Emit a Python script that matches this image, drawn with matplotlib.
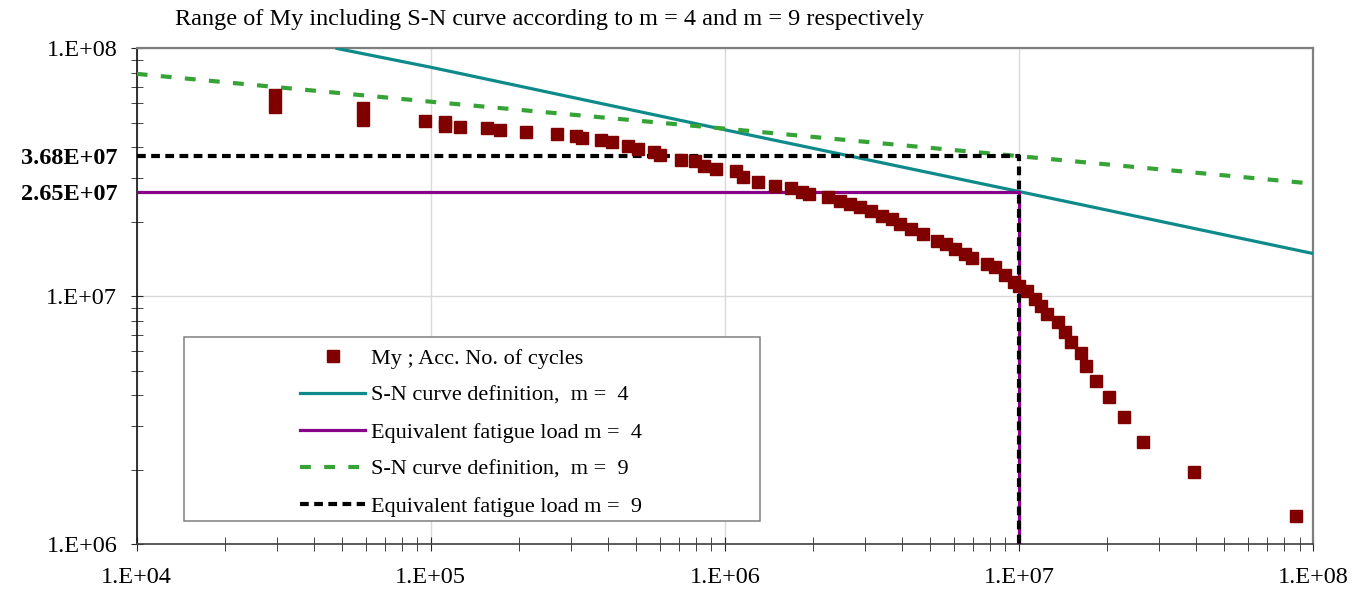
import matplotlib
matplotlib.use("Agg")
import matplotlib.pyplot as plt
from matplotlib.patches import Rectangle
from matplotlib.ticker import LogLocator, NullFormatter

plt.rcParams['font.family'] = ['Liberation Serif', 'DejaVu Serif']

# My range vs accumulated number of cycles
cycles = [2.96e4, 2.96e4, 5.89e4, 5.89e4, 9.53e4, 1.12e5, 1.12e5, 1.256e5, 1.556e5, 1.726e5,
          2.10e5, 2.69e5, 3.11e5, 3.27e5, 3.78e5, 4.14e5, 4.68e5, 5.06e5, 5.73e5, 6.01e5,
          7.10e5, 7.89e5, 8.48e5, 9.31e5, 1.087e6, 1.153e6, 1.297e6, 1.479e6, 1.68e6, 1.83e6,
          1.93e6, 2.24e6, 2.46e6, 2.66e6, 2.87e6, 3.13e6, 3.41e6, 3.70e6, 3.95e6, 4.31e6,
          4.72e6, 5.26e6, 5.66e6, 6.08e6, 6.58e6, 6.92e6, 7.78e6, 8.32e6, 8.99e6, 9.60e6,
          9.98e6, 1.065e7, 1.137e7, 1.192e7, 1.245e7, 1.357e7, 1.439e7, 1.503e7, 1.626e7, 1.695e7,
          1.828e7, 2.03e7, 2.285e7, 2.65e7, 3.95e7, 8.74e7]
my_range = [6.52e7, 5.83e7, 5.75e7, 5.15e7, 5.11e7, 5.04e7, 4.87e7, 4.82e7, 4.77e7, 4.67e7,
            4.61e7, 4.53e7, 4.42e7, 4.36e7, 4.28e7, 4.18e7, 4.06e7, 3.94e7, 3.84e7, 3.72e7,
            3.55e7, 3.51e7, 3.35e7, 3.27e7, 3.20e7, 3.04e7, 2.89e7, 2.80e7, 2.74e7, 2.65e7,
            2.60e7, 2.52e7, 2.42e7, 2.37e7, 2.29e7, 2.22e7, 2.12e7, 2.06e7, 1.96e7, 1.87e7,
            1.79e7, 1.68e7, 1.63e7, 1.555e7, 1.48e7, 1.425e7, 1.352e7, 1.312e7, 1.222e7, 1.148e7,
            1.105e7, 1.055e7, 9.77e6, 9.18e6, 8.50e6, 7.87e6, 7.18e6, 6.54e6, 5.90e6, 5.23e6,
            4.57e6, 3.92e6, 3.28e6, 2.60e6, 1.955e6, 1.306e6]

# S-N curves
sn4_N = [4.8e4, 1e5, 1e6, 1e7, 1e8]
sn4_S = [1e8, 8.4e7, 4.7e7, 2.65e7, 1.49e7]
sn9_N = [1e4, 1e5, 1e6, 1e7, 1e8]
sn9_S = [7.9e7, 6.1e7, 4.75e7, 3.68e7, 2.85e7]

# equivalent fatigue loads at the reference number of cycles
n_ref = 1e7
eq4 = 2.65e7
eq9 = 3.68e7

fig = plt.figure(figsize=(13.55, 5.89), dpi=100)
ax = fig.add_axes([0.1009, 0.0756, 0.8681, 0.8421])

ax.set_xscale('log')
ax.set_yscale('log')
ax.set_xlim(1e4, 1e8)
ax.set_ylim(1e6, 1e8)

ax.grid(True, which='major', color='#d9d9d9', lw=1.0, zorder=0)

h_sn4, = ax.plot(sn4_N, sn4_S, color='#0e8a8a', lw=2.3, zorder=3,
                 label='S-N curve definition,  m =  4')
h_eq4, = ax.plot([1e4, n_ref, n_ref], [eq4, eq4, 1e6], color='#880088', lw=2.3, zorder=3,
                 label='Equivalent fatigue load m =  4')
h_sn9, = ax.plot(sn9_N, sn9_S, color='#36a336', lw=3, dashes=(2.6, 3.2), zorder=3,
                 label='S-N curve definition,  m =  9')
h_eq9, = ax.plot([1e4, n_ref, n_ref], [eq9, eq9, 1e6], color='black', lw=3, dashes=(2.1, 1.3), zorder=4,
                 label='Equivalent fatigue load m =  9')
h_my, = ax.plot(cycles, my_range, 's', color='#800000', ms=8.3, mec='#800000', ls='none', zorder=5,
                label='My ; Acc. No. of cycles')

# ticks
ax.xaxis.set_minor_locator(LogLocator(base=10, subs=range(2, 10), numticks=100))
ax.xaxis.set_minor_formatter(NullFormatter())
ax.set_xticks([1e4, 1e5, 1e6, 1e7, 1e8])
ax.set_xticklabels(['1.E+04', '1.E+05', '1.E+06', '1.E+07', '1.E+08'])

ax.yaxis.set_minor_locator(LogLocator(base=10, subs=range(2, 10), numticks=100))
ax.yaxis.set_minor_formatter(NullFormatter())
ax.set_yticks([1e6, 1e7, 1e8, eq4, eq9])
ax.set_yticklabels(['1.E+06', '1.E+07', '1.E+08', '2.65E+07', '3.68E+07'])
for t in ax.yaxis.get_major_ticks()[3:]:
    t.tick1line.set_visible(False)
    t.gridline.set_visible(False)
    t.label1.set_fontweight('bold')

ax.tick_params(axis='both', which='both', direction='inout', colors='#262626', labelcolor='black',
               labelsize=17.5)
ax.tick_params(axis='x', which='both', length=10, pad=11)
ax.tick_params(axis='y', which='both', length=8, pad=10)

for s in ['top', 'right']:
    ax.spines[s].set_color('#7f7f7f')
    ax.spines[s].set_linewidth(1.6)
ax.spines['left'].set_color('#111111')
ax.spines['left'].set_linewidth(1.2)
ax.spines['bottom'].set_color('#404040')
ax.spines['bottom'].set_linewidth(1.2)

# legend with its own frame (handles sit well to the right of the box edge)
box = Rectangle((0.0402, 0.047), 0.4898, 0.371, transform=ax.transAxes, facecolor='white',
                edgecolor='#7f7f7f', lw=1.1, zorder=6)
ax.add_patch(box)
leg = ax.legend(handles=[h_my, h_sn4, h_eq4, h_sn9, h_eq9], loc='upper left',
                bbox_to_anchor=(0.1388, 0.396), frameon=False, fontsize=16,
                handlelength=2.93, handletextpad=0.27, labelspacing=0.74, borderpad=0,
                borderaxespad=0)
leg.set_zorder(7)

fig.text(175 / 1355, 1 - 20 / 589, 'Range of My including S-N curve according to m = 4 and m = 9 respectively',
         fontsize=17.5, ha='left', va='center')

fig.savefig('out.png', dpi=100)
